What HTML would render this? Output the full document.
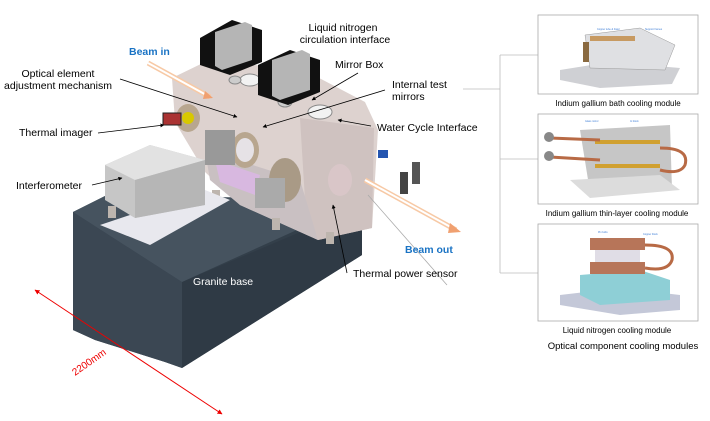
<!DOCTYPE html>
<html><head><meta charset="utf-8"><style>
html,body{margin:0;padding:0;background:#fff;}
svg{display:block;font-family:"Liberation Sans",sans-serif;}
</style></head><body>
<svg width="710" height="421" viewBox="0 0 710 421" xmlns="http://www.w3.org/2000/svg">
<defs>
<marker id="ar" viewBox="0 0 10 10" refX="9" refY="5" markerWidth="5" markerHeight="5" orient="auto"><path d="M0,0L10,5L0,10z" fill="#000"/></marker>
<marker id="rr" viewBox="0 0 10 10" refX="9" refY="5" markerWidth="5" markerHeight="5" orient="auto-start-reverse"><path d="M0,0L10,5L0,10z" fill="#e00"/></marker>
</defs>
<!-- granite base -->
<polygon points="73,212 105,196 290,198 362,206 362,255 182,368 165,362 95,340 73,330" fill="#333f4a"/>
<polygon points="73,212 182,282 182,368 165,362 95,340 73,330" fill="#3b4753"/>
<polygon points="182,282 362,206 362,255 182,368" fill="#2f3a45"/>
<polygon points="105,196 290,198 330,215 182,282 73,212" fill="#46535f"/>
<!-- chamber -->
<polygon points="172,78 205,62 300,68 365,102 378,130 372,228 318,240 240,205 205,172 175,122" fill="#ddd2cf"/>
<polygon points="300,118 374,128 372,228 318,240 305,200" fill="#cfc2c0"/>
<polygon points="205,150 300,180 318,240 240,205 210,180" fill="#c9c0c2"/>
<polygon points="215,160 260,175 255,195 220,182" fill="#d8b8e0"/>
<ellipse cx="245" cy="150" rx="14" ry="18" fill="#b8a68f"/>
<ellipse cx="245" cy="150" rx="9" ry="12" fill="#e6e2e6"/>
<ellipse cx="285" cy="180" rx="16" ry="22" fill="#a99a86"/>
<ellipse cx="340" cy="180" rx="12" ry="16" fill="#d9c6c8"/>
<ellipse cx="320" cy="112" rx="12" ry="7" fill="#f2f2f2" stroke="#888"/>
<ellipse cx="250" cy="80" rx="10" ry="6" fill="#f2f2f2" stroke="#888"/>
<ellipse cx="235" cy="80" rx="6" ry="4" fill="#ccc" stroke="#888"/>
<ellipse cx="285" cy="102" rx="7" ry="5" fill="#ccc" stroke="#888"/>
<ellipse cx="188" cy="118" rx="12" ry="14" fill="#b8a68f"/>
<circle cx="188" cy="118" r="6" fill="#d8c800"/>
<rect x="163" y="113" width="18" height="12" fill="#a33" stroke="#222"/>
<!-- legs -->
<g fill="#bdb5ae">
<rect x="108" y="206" width="8" height="12"/><rect x="178" y="208" width="8" height="12"/>
<rect x="148" y="226" width="8" height="12"/><rect x="272" y="218" width="8" height="12"/>
<rect x="212" y="190" width="8" height="12"/><rect x="326" y="232" width="8" height="12"/>
</g>
<!-- motors -->
<polygon points="200,38 232,20 262,30 262,62 230,75 200,65" fill="#111"/>
<polygon points="215,32 245,22 252,25 252,60 222,70 215,66" fill="#b5b5b5"/>
<polygon points="258,65 290,50 320,60 320,92 288,105 258,95" fill="#111"/>
<polygon points="272,60 302,50 310,54 310,90 280,100 272,96" fill="#b5b5b5"/>
<!-- interferometer -->
<polygon points="100,225 205,190 230,200 150,245" fill="#e8e8ee"/>
<polygon points="105,165 150,145 205,160 205,205 135,218 105,200" fill="#c6c6c6"/>
<polygon points="105,165 150,145 205,160 135,180" fill="#e2e2e2"/>
<polygon points="135,180 205,160 205,205 135,218" fill="#b6b6b6"/>
<rect x="205" y="130" width="30" height="35" fill="#999" />
<rect x="255" y="178" width="30" height="30" fill="#aaa"/>
<!-- valves -->
<rect x="378" y="150" width="10" height="8" fill="#2455b0"/>
<rect x="400" y="172" width="8" height="22" fill="#444"/>
<rect x="412" y="162" width="8" height="22" fill="#555"/>
<!-- beams -->
<line x1="148" y1="63" x2="210" y2="97" stroke="#f7c9a5" stroke-width="5"/>
<line x1="148" y1="63" x2="210" y2="97" stroke="#fff" stroke-width="2"/>
<polygon points="205,91 213,98 203,99" fill="#f0a070"/>
<line x1="365" y1="180" x2="456" y2="230" stroke="#f7c9a5" stroke-width="5"/>
<line x1="365" y1="180" x2="456" y2="230" stroke="#fff" stroke-width="2"/>
<polygon points="450,223 461,232 448,233" fill="#f0a070"/>
<!-- leader lines -->
<g stroke="#000" stroke-width="0.8" fill="none" marker-end="url(#ar)">
<line x1="120" y1="79" x2="237" y2="117"/>
<line x1="98" y1="133" x2="164" y2="125"/>
<line x1="92" y1="185" x2="122" y2="178"/>
<line x1="358" y1="73" x2="312" y2="100"/>
<line x1="385" y1="90" x2="263" y2="127"/>
<line x1="371" y1="126" x2="338" y2="120"/>
<line x1="347" y1="273" x2="333" y2="205"/>
</g>
<line x1="368" y1="195" x2="447" y2="285" stroke="#aaa" stroke-width="0.8"/>
<!-- red dimension -->
<line x1="35" y1="290" x2="222" y2="414" stroke="#e00" stroke-width="1" marker-start="url(#rr)" marker-end="url(#rr)"/>
<text x="0" y="0" font-size="10" fill="#e00" transform="translate(75,376) rotate(-35)">2200mm</text>
<!-- labels -->
<g font-size="10.5" fill="#000">
<text x="343" y="31" text-anchor="middle">Liquid nitrogen</text>
<text x="345" y="43" text-anchor="middle">circulation interface</text>
<text x="335" y="68">Mirror Box</text>
<text x="58" y="77" text-anchor="middle">Optical element</text>
<text x="58" y="89" text-anchor="middle">adjustment mechanism</text>
<text x="392" y="88">Internal test</text>
<text x="392" y="100">mirrors</text>
<text x="377" y="131">Water Cycle Interface</text>
<text x="19" y="136">Thermal imager</text>
<text x="16" y="189">Interferometer</text>
<text x="353" y="277">Thermal power sensor</text>
<text x="193" y="285" fill="#fff">Granite base</text>
</g>
<text x="129" y="55" font-size="10.5" font-weight="bold" fill="#1a73c4">Beam in</text>
<text x="405" y="253" font-size="10.5" font-weight="bold" fill="#1a73c4">Beam out</text>
<!-- bracket -->
<g stroke="#bbb" stroke-width="0.8" fill="none">
<line x1="463" y1="89" x2="500" y2="89"/>
<line x1="500" y1="55" x2="500" y2="273"/>
<line x1="500" y1="55" x2="538" y2="55"/>
<line x1="500" y1="159" x2="538" y2="159"/>
<line x1="500" y1="273" x2="538" y2="273"/>
</g>
<!-- module boxes -->
<g stroke="#aaa" stroke-width="0.8" fill="#fff">
<rect x="538" y="15" width="160" height="79"/>
<rect x="538" y="114" width="160" height="90"/>
<rect x="538" y="224" width="160" height="97"/>
</g>
<!-- module 1 -->
<polygon points="560,70 610,62 680,68 672,84 600,88 560,80" fill="#cfd0d4"/>
<polygon points="585,35 640,28 675,45 665,70 590,68" fill="#dfe0e3" stroke="#999" stroke-width="0.5"/>
<rect x="590" y="36" width="45" height="5" fill="#c79a62"/>
<rect x="583" y="42" width="6" height="20" fill="#8a6a40"/>
<!-- module 2 -->
<polygon points="580,130 670,125 672,190 590,192" fill="#c6c6c6"/>
<polygon points="570,180 660,175 680,190 590,198" fill="#dcdcdc"/>
<rect x="595" y="140" width="65" height="4" fill="#d0a030"/>
<rect x="595" y="164" width="65" height="4" fill="#d0a030"/>
<path d="M550,138 L600,140 M550,157 L600,160 M660,148 Q690,148 685,165 Q680,175 660,170" stroke="#b86a45" stroke-width="3" fill="none"/>
<circle cx="549" cy="137" r="5" fill="#888"/><circle cx="549" cy="156" r="5" fill="#888"/>
<!-- module 3 -->
<polygon points="560,295 620,288 680,295 680,310 620,315 560,305" fill="#c4c8d8"/>
<polygon points="580,275 640,270 670,280 670,300 600,305 580,295" fill="#8ecfd6"/>
<rect x="590" y="238" width="55" height="12" fill="#b77559"/>
<rect x="590" y="262" width="55" height="12" fill="#b77559"/>
<rect x="595" y="250" width="45" height="12" fill="#e0dde6"/>
<path d="M645,245 Q675,245 672,260 Q668,272 645,268" stroke="#b86a45" stroke-width="3" fill="none"/>
<g font-size="2.5" fill="#3a7bd5">
<text x="597" y="30">Copper tube &amp; braid</text><text x="645" y="30">Support frames</text>
<text x="585" y="122">Glass mirror</text><text x="630" y="122">In block</text>
<text x="598" y="233">Pin bolts</text><text x="643" y="235">Copper block</text>
</g>
<g font-size="8" fill="#000" text-anchor="middle">
<text x="618" y="106">Indium gallium bath cooling module</text>
<text x="617" y="216">Indium gallium thin-layer cooling module</text>
<text x="617" y="333">Liquid nitrogen cooling module</text>
</g>
<text x="623" y="349" font-size="9.5" fill="#000" text-anchor="middle">Optical component cooling modules</text>
</svg>
</body></html>
